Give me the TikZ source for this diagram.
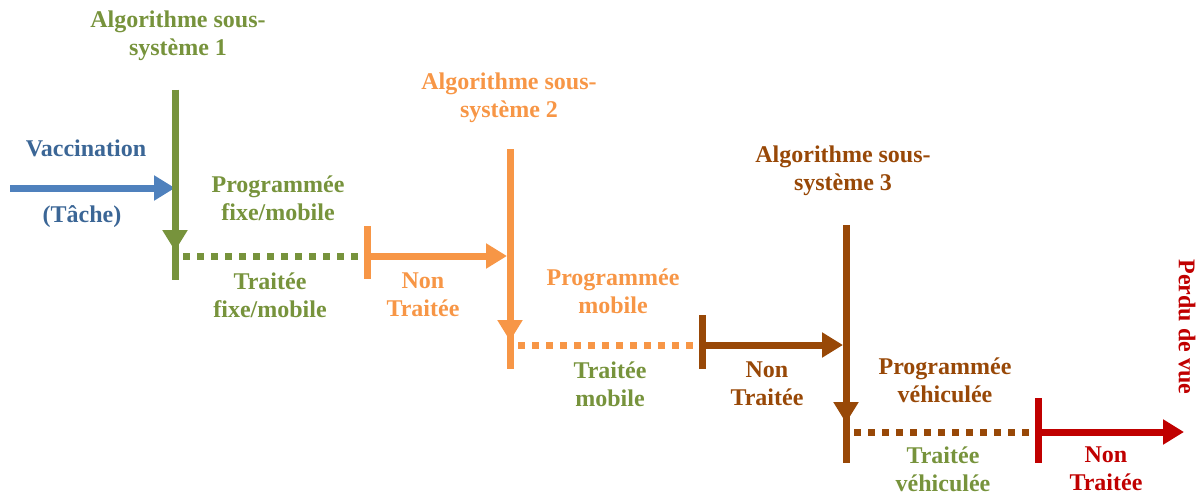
\documentclass[tikz,border=0pt]{standalone}
\usepackage{fontspec}
\setmainfont{Liberation Serif}
\usetikzlibrary{arrows.meta}
\definecolor{cgreen}{HTML}{77933C}
\definecolor{cblue}{HTML}{4F81BD}
\definecolor{cbluetxt}{HTML}{3B6696}
\definecolor{corange}{HTML}{F79646}
\definecolor{cbrown}{HTML}{984807}
\definecolor{cred}{HTML}{C00000}
\tikzset{
  lbl/.style={align=center, font=\fontsize{24}{28}\selectfont\bfseries, inner sep=0pt},
  thick line/.style={line width=7pt},
  arr/.style={line width=7pt, -{Triangle[length=21pt,width=24pt]}},
  dotline/.style={line width=7pt, dash pattern=on 7pt off 7pt},
}
\begin{document}
\begin{tikzpicture}[x=1pt,y=-1pt]
\useasboundingbox (0,0) rectangle (1200,495);
% coordinates
\coordinate (b0) at (10,188);
\coordinate (b1) at (175,188);
\coordinate (g0) at (175,90);
\coordinate (g1) at (175,280);
\coordinate (gt) at (175,251);
\coordinate (gd0) at (183,256);
\coordinate (gd1) at (363,256);
\coordinate (o0t) at (367,226);
\coordinate (o0b) at (367,279);
\coordinate (o0) at (367,256);
\coordinate (o1) at (507,256);
\coordinate (ov0) at (510,149);
\coordinate (ov1) at (510,369);
\coordinate (ot) at (510,341);
\coordinate (od0) at (518,345);
\coordinate (od1) at (697,345);
\coordinate (r0t) at (702,315);
\coordinate (r0b) at (702,369);
\coordinate (r0) at (702,345);
\coordinate (r1) at (843,345);
\coordinate (rv0) at (846,225);
\coordinate (rv1) at (846,463);
\coordinate (rt) at (846,423);
\coordinate (rd0) at (854,432);
\coordinate (rd1) at (1035,432);
\coordinate (e0t) at (1038,398);
\coordinate (e0b) at (1038,463);
\coordinate (e0) at (1038,432);
\coordinate (e1) at (1184,432);
% blue
\draw[arr, cblue] (b0) -- (b1);
% green
\draw[thick line, cgreen] (g0) -- (g1);
\draw[arr, cgreen] (g0) -- (gt);
\draw[dotline, cgreen] (gd0) -- (gd1);
% orange
\draw[thick line, corange] (o0t) -- (o0b);
\draw[arr, corange] (o0) -- (o1);
\draw[thick line, corange] (ov0) -- (ov1);
\draw[arr, corange] (ov0) -- (ot);
\draw[dotline, corange] (od0) -- (od1);
% brown
\draw[thick line, cbrown] (r0t) -- (r0b);
\draw[arr, cbrown] (r0) -- (r1);
\draw[thick line, cbrown] (rv0) -- (rv1);
\draw[arr, cbrown] (rv0) -- (rt);
\draw[dotline, cbrown] (rd0) -- (rd1);
% red
\draw[thick line, cred] (e0t) -- (e0b);
\draw[arr, cred] (e0) -- (e1);
% labels
\node[lbl, text=cgreen] (alg1) at (178,36) {Algorithme sous-\\système 1};
\node[lbl, text=cbluetxt] (vac) at (86,148) {Vaccination};
\node[lbl, text=cbluetxt] (tache) at (82,217) {(Tâche)};
\node[lbl, text=cgreen] (pfm) at (278,198) {Programmée\\fixe/mobile};
\node[lbl, text=cgreen] (tfm) at (270,295) {Traitée\\fixe/mobile};
\node[lbl, text=corange] (alg2) at (509,98) {Algorithme sous-\\système 2};
\node[lbl, text=corange] (nt1) at (423,295) {Non\\Traitée};
\node[lbl, text=corange] (pm) at (613,291) {Programmée\\mobile};
\node[lbl, text=cgreen] (tm) at (610,384) {Traitée\\mobile};
\node[lbl, text=cbrown] (alg3) at (843,171) {Algorithme sous-\\système 3};
\node[lbl, text=cbrown] (nt2) at (767,384) {Non\\Traitée};
\node[lbl, text=cbrown] (pv) at (945,380) {Programmée\\véhiculée};
\node[lbl, text=cgreen] (tv) at (943,469) {Traitée\\véhiculée};
\node[lbl, text=cred] (nt3) at (1106,469) {Non\\Traitée};
\node[lbl, text=cred, rotate=-90] (pdv) at (1187,327) {Perdu de vue};
\end{tikzpicture}
\end{document}
